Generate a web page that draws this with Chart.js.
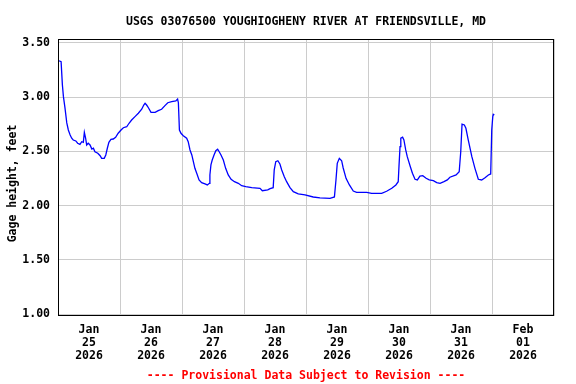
<!DOCTYPE html>
<html lang="en">
<head>
    <meta charset="UTF-8">
    <title>USGS 03076500 Gage Height</title>
    <script src="https://cdn.jsdelivr.net/npm/chart.js@4.4.1/dist/chart.umd.min.js"></script>
    <style>
        html, body {
            margin: 0;
            padding: 0;
            background: #ffffff;
        }
        .chart-box {
            width: 576px;
            height: 384px;
        }
    </style>
</head>
<body>
    <div class="chart-box">
        <canvas id="gageChart" width="576" height="384"></canvas>
    </div>

    <script>
        // hours since Jan 25 2026 00:00, and gage height in feet
        const hours = [
            0.4, 1.2, 1.7, 2.1, 2.7, 3.4, 4.0, 4.7, 5.3, 5.9, 6.9, 7.6, 8.5, 9.2, 9.8, 10.2, 10.7, 11.1, 11.7, 12.4,
            13.1, 13.7, 14.3, 15.4, 16.3, 16.9, 17.9, 18.5, 19.1, 19.7, 20.5, 21.4, 22.3, 23.3, 24.4, 25.3, 26.6, 27.5, 28.5, 29.8,
            31.1, 32.4, 33.2, 33.7, 34.3, 35.0, 36.0, 37.6, 38.8, 40.1, 41.4, 42.5, 44.0, 45.6, 46.3, 46.6, 47.0, 47.6, 48.5, 49.8,
            50.4, 51.1, 51.8, 52.4, 53.0, 53.7, 54.6, 55.6, 56.9, 57.8, 58.6, 58.8, 59.2, 59.7, 60.4, 61.1, 61.8, 62.4, 63.1, 64.0,
            64.9, 65.9, 67.0, 68.3, 69.8, 71.1, 72.7, 75.0, 78.2, 79.1, 81.2, 82.1, 83.3, 83.7, 84.3, 85.1, 85.9, 86.6, 87.6, 88.5,
            89.8, 91.1, 93.0, 95.6, 98.8, 101.4, 105.3, 107.0, 107.6, 108.1, 108.9, 109.8, 110.4, 111.5, 112.8, 114.3, 115.6, 119.5, 121.4, 125.3,
            127.2, 129.2, 130.8, 131.7, 132.0, 132.4, 132.7, 133.4, 133.9, 134.6, 135.2, 136.3, 137.2, 138.2, 139.1, 140.1, 141.2, 142.5, 143.7, 145.3,
            146.6, 147.9, 149.4, 150.7, 151.7, 154.1, 155.3, 155.9, 156.4, 157.3, 157.9, 158.8, 160.2, 161.4, 162.7, 164.0, 165.3, 166.6, 167.5, 167.9,
            168.3, 168.5, 168.9
        ];
        const gageHeight = [
            3.335, 3.326, 3.111, 3.004, 2.900, 2.762, 2.697, 2.651, 2.621, 2.605, 2.596, 2.575, 2.565, 2.589, 2.584, 2.676, 2.621, 2.559, 2.575, 2.559,
            2.522, 2.529, 2.497, 2.483, 2.460, 2.436, 2.436, 2.467, 2.529, 2.584, 2.611, 2.614, 2.630, 2.667, 2.697, 2.718, 2.727, 2.759, 2.789, 2.820,
            2.851, 2.888, 2.927, 2.943, 2.927, 2.902, 2.860, 2.860, 2.875, 2.888, 2.921, 2.948, 2.958, 2.964, 2.982, 2.948, 2.697, 2.667, 2.645, 2.621,
            2.589, 2.513, 2.467, 2.405, 2.344, 2.298, 2.237, 2.212, 2.200, 2.191, 2.206, 2.283, 2.375, 2.421, 2.467, 2.506, 2.519, 2.497, 2.467, 2.421,
            2.344, 2.283, 2.243, 2.221, 2.206, 2.184, 2.175, 2.166, 2.160, 2.138, 2.145, 2.157, 2.166, 2.329, 2.405, 2.414, 2.384, 2.329, 2.267, 2.221,
            2.166, 2.129, 2.108, 2.099, 2.080, 2.071, 2.068, 2.080, 2.237, 2.390, 2.436, 2.414, 2.347, 2.252, 2.191, 2.135, 2.123, 2.123, 2.114, 2.114,
            2.133, 2.160, 2.191, 2.221, 2.366, 2.543, 2.621, 2.630, 2.605, 2.513, 2.451, 2.366, 2.298, 2.243, 2.237, 2.273, 2.276, 2.252, 2.237, 2.230,
            2.212, 2.206, 2.221, 2.237, 2.262, 2.283, 2.313, 2.497, 2.750, 2.743, 2.713, 2.605, 2.451, 2.344, 2.243, 2.237, 2.258, 2.283, 2.292, 2.697,
            2.820, 2.842, 2.835
        ];

        const tickMonths = ['Jan', 'Jan', 'Jan', 'Jan', 'Jan', 'Jan', 'Jan', 'Feb'];
        const tickDays = ['25', '26', '27', '28', '29', '30', '31', '01'];
        const tickYears = ['2026', '2026', '2026', '2026', '2026', '2026', '2026', '2026'];
        const yTicks = [1.0, 1.5, 2.0, 2.5, 3.0, 3.5];

        const titleText = 'USGS 03076500 YOUGHIOGHENY RIVER AT FRIENDSVILLE, MD';
        const footerText = '---- Provisional Data Subject to Revision ----';
        const yTitleText = 'Gage height, feet';

        const monoFont = "'DejaVu Sans Mono', 'Liberation Mono', monospace";
        Chart.defaults.font.family = monoFont;
        Chart.defaults.font.size = 11.5;
        Chart.defaults.font.weight = 'bold';
        Chart.defaults.color = '#000000';

        // frame, title, footer and y axis title
        const usgsDecor = {
            id: 'usgsDecor',
            afterDraw(chart) {
                const { ctx, chartArea } = chart;
                const cx = (chartArea.left + chartArea.right) / 2;
                ctx.save();
                ctx.strokeStyle = '#000000';
                ctx.lineWidth = 1;
                ctx.strokeRect(chartArea.left + 0.5, chartArea.top + 0.5,
                    chartArea.right - chartArea.left - 1, chartArea.bottom - chartArea.top - 1);

                ctx.font = 'bold 11.5px ' + monoFont;
                ctx.textAlign = 'center';
                ctx.textBaseline = 'alphabetic';
                ctx.fillStyle = '#000000';
                ctx.fillText(titleText, cx, 24.5);

                ctx.fillStyle = '#ff0000';
                ctx.fillText(footerText, cx, 378.5);

                ctx.fillStyle = '#000000';
                ctx.translate(15.5, 183.5);
                ctx.rotate(-Math.PI / 2);
                ctx.fillText(yTitleText, 0, 0);
                ctx.restore();
            }
        };

        const ctx = document.getElementById('gageChart').getContext('2d');
        new Chart(ctx, {
            type: 'line',
            data: {
                datasets: [{
                    data: hours.map((h, i) => ({ x: h, y: gageHeight[i] })),
                    borderColor: '#0000ff',
                    borderWidth: 1.3,
                    pointRadius: 0,
                    tension: 0,
                    fill: false
                }]
            },
            options: {
                responsive: false,
                animation: false,
                layout: {
                    padding: { left: 0, top: 39, right: 22, bottom: 0 }
                },
                plugins: {
                    legend: { display: false },
                    tooltip: { enabled: false }
                },
                scales: {
                    x: {
                        type: 'linear',
                        min: 0,
                        max: 192,
                        afterBuildTicks(scale) {
                            const t = [];
                            for (let v = 0; v <= 192; v += 12) t.push({ value: v });
                            scale.ticks = t;
                        },
                        afterFit(scale) {
                            scale.height = 68;
                        },
                        grid: {
                            color: c => (c.tick && c.tick.value % 24 === 0) ? '#cccccc' : 'rgba(0,0,0,0)',
                            lineWidth: 1,
                            drawTicks: false
                        },
                        border: { display: false },
                        ticks: {
                            maxRotation: 0,
                            autoSkip: false,
                            padding: 8,
                            font: { size: 11.5, weight: 'bold', lineHeight: 1.1 },
                            callback: value => {
                                if (value % 24 !== 12) return '';
                                const i = (value - 12) / 24;
                                return [tickMonths[i], tickDays[i], tickYears[i]];
                            }
                        }
                    },
                    y: {
                        min: 0.984,
                        max: 3.535,
                        afterBuildTicks(scale) {
                            scale.ticks = yTicks.map(v => ({ value: v }));
                        },
                        afterFit(scale) {
                            scale.width = 58;
                        },
                        grid: {
                            color: '#cccccc',
                            lineWidth: 1,
                            drawTicks: false
                        },
                        border: { display: false },
                        ticks: {
                            padding: 8,
                            callback: value => value.toFixed(2)
                        }
                    }
                }
            },
            plugins: [usgsDecor]
        });
    </script>
</body>
</html>
